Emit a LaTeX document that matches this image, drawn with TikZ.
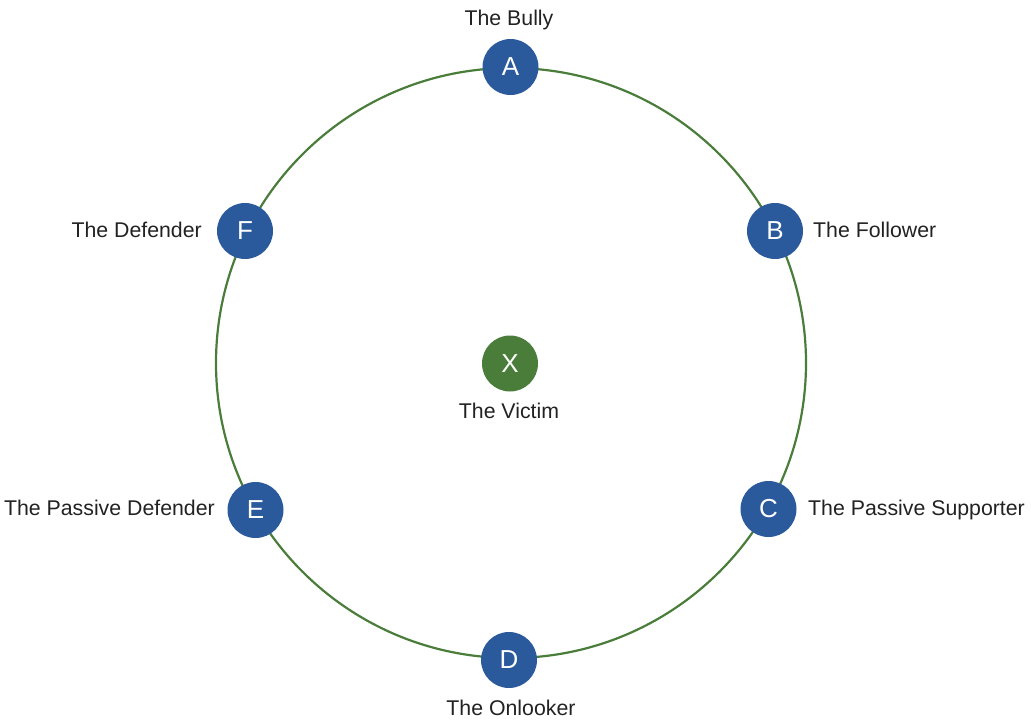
\documentclass[tikz,border=0pt]{standalone}
\usepackage{fontspec}
\setmainfont{Liberation Sans}
\usepackage{tikz}
\definecolor{roleblue}{HTML}{2A5A9C}
\definecolor{ringgreen}{HTML}{4A7D3A}
\definecolor{labelgray}{HTML}{222222}

\begin{document}
\begin{tikzpicture}[x=1pt,y=-1pt,
  role/.style={circle,fill=roleblue,minimum size=56pt,inner sep=0pt,text=white,font=\fontsize{26}{26}\selectfont},
  victim/.style={role,fill=ringgreen},
  rolename/.style={inner sep=0pt,text=labelgray,font=\fontsize{21.3}{24}\selectfont}]
\useasboundingbox (0,0) rectangle (1031,720);
\draw[ringgreen, line width=2.2pt] (511,363) circle (295);

\node[role] (a) at (510.5,67) {A};
\node[role] (b) at (775,231) {B};
\node[role] (c) at (768.5,509) {C};
\node[role] (d) at (509,660) {D};
\node[role] (e) at (255.5,510) {E};
\node[role] (f) at (245,231) {F};
\node[victim] (x) at (510,363.5) {X};

\node[rolename,anchor=base] (bully) at (509,25) {The Bully};
\node[rolename,anchor=base west] (follower) at (813,237) {The Follower};
\node[rolename,anchor=base west] (supporter) at (808,515.5) {The Passive Supporter};
\node[rolename,anchor=base] (onlooker) at (511,715.5) {The Onlooker};
\node[rolename,anchor=base east] (pdefender) at (215,515.5) {The Passive Defender};
\node[rolename,anchor=base east] (defender) at (202,237) {The Defender};
\node[rolename,anchor=base] (victim) at (509,418) {The Victim};
\end{tikzpicture}
\end{document}
